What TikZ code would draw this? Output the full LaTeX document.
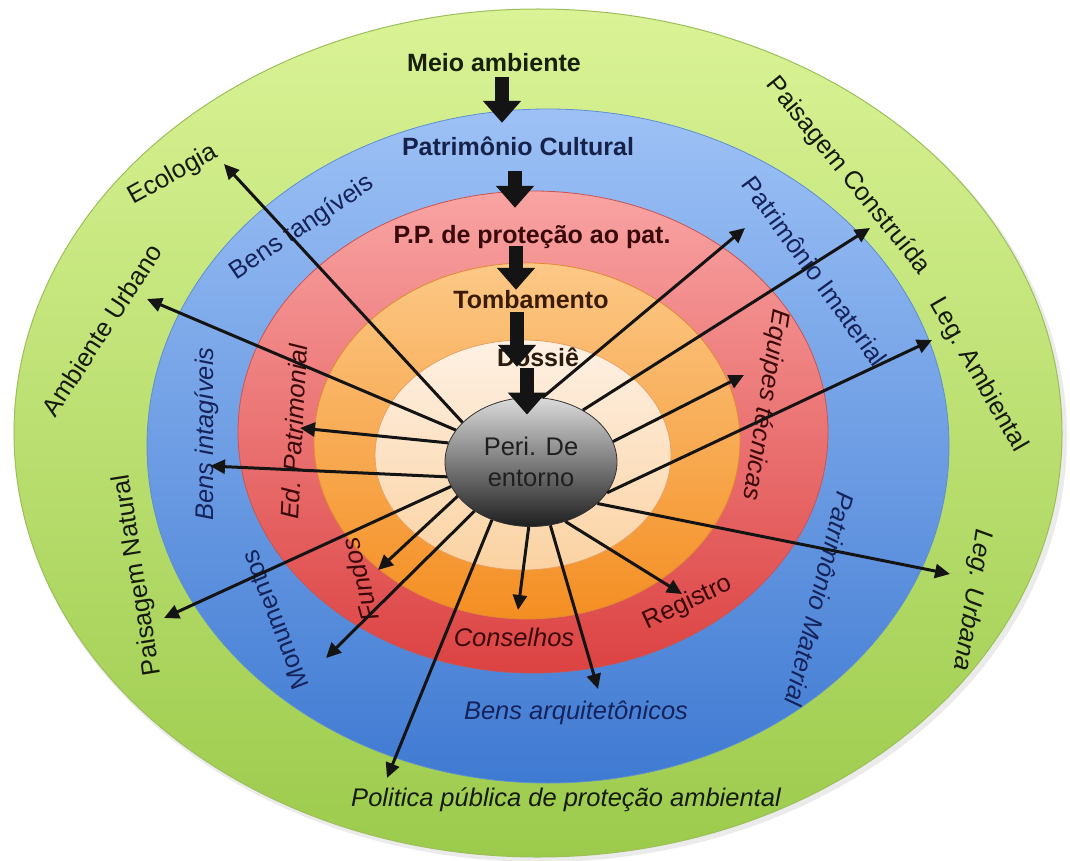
\documentclass[tikz,border=0pt]{standalone}
\usepackage{fontspec}
\setmainfont{Liberation Sans}
\usetikzlibrary{shapes.geometric,arrows.meta}
\definecolor{gtop}{HTML}{DAF396}
\definecolor{gbot}{HTML}{9CCB4C}
\definecolor{gedge}{HTML}{9DBF5A}
\definecolor{btop}{HTML}{9DC1F6}
\definecolor{bbot}{HTML}{3F7AD2}
\definecolor{bedge}{HTML}{5F8FD0}
\definecolor{rtop}{HTML}{F9A3A3}
\definecolor{rbot}{HTML}{DC4242}
\definecolor{redge}{HTML}{C85454}
\definecolor{otop}{HTML}{FCC886}
\definecolor{obot}{HTML}{F48E22}
\definecolor{oedge}{HTML}{E08A35}
\definecolor{ptop}{HTML}{FEF1E4}
\definecolor{pbot}{HTML}{FBD2A2}
\definecolor{pedge}{HTML}{E8A060}
\definecolor{gtxt}{HTML}{151A0C}
\definecolor{btxt}{HTML}{15235A}
\definecolor{rtxt}{HTML}{3A0808}
\definecolor{h1}{HTML}{18200C}
\definecolor{h2}{HTML}{17224A}
\definecolor{h3}{HTML}{3A0A0A}
\definecolor{h4}{HTML}{3A1C05}
\definecolor{h5}{HTML}{2A1A10}
\tikzset{
  lab/.style={font=\fontsize{25.5}{27}\selectfont, inner sep=0pt},
  itlab/.style={font=\fontsize{25.5}{27}\selectfont\itshape, inner sep=0pt},
  head/.style={font=\bfseries\fontsize{25}{27}\selectfont, inner sep=0pt, text height=18pt, text depth=5pt},
  thinarrow/.style={draw=black!92, line width=3pt, -{Triangle[length=15pt,width=14pt]}},
  bigarrow/.style={draw=black!92, line width=14pt, -{Triangle[length=22pt,width=37pt]}},
}
\begin{document}
\begin{tikzpicture}[x=1pt,y=-1pt]
\useasboundingbox (0,0) rectangle (1070,861);
\fill[white] (0,0) rectangle (1070,861);
% soft shadow
\fill[black, opacity=0.08] (541,437) ellipse [x radius=526pt, y radius=425pt];
% rings
\path[top color=gtop, bottom color=gbot, draw=gedge, line width=1pt] (538,433) ellipse [x radius=524pt, y radius=424pt];
\path[top color=btop, bottom color=bbot, draw=bedge, line width=0.8pt] (548,446) ellipse [x radius=401pt, y radius=337pt];
\path[top color=rtop, bottom color=rbot, draw=redge, line width=0.8pt] (533,432) ellipse [x radius=295pt, y radius=241pt];
\path[top color=otop, bottom color=obot, draw=oedge, line width=0.8pt] (527,441) ellipse [x radius=213pt, y radius=178pt];
\path[top color=ptop, bottom color=pbot, draw=pedge, line width=0.8pt] (523,455) ellipse [x radius=148pt, y radius=115pt];

% green ring labels
\node[lab, text=gtxt, rotate=29] (eco) at (173,175) {Ecologia};
\node[lab, text=gtxt, rotate=57] (amb) at (102,330) {Ambiente Urbano};
\node[lab, text=gtxt, rotate=99] (pn) at (138,575) {Paisagem Natural};
\node[itlab, text=gtxt] (pol) at (566,800) {Politica pública de proteção ambiental};
\node[itlab, text=gtxt, rotate=-99] (lu) at (972,600) {Leg. Urbana};
\node[lab, text=gtxt, rotate=-60] (la) at (978,375) {Leg. Ambiental};
\node[lab, text=gtxt, rotate=-51] (pc) at (848,176) {Paisagem Construída};
% blue ring labels
\node[lab, text=btxt, rotate=34] (bt) at (302,228) {Bens tangíveis};
\node[itlab, text=btxt, rotate=90] (bi) at (207,434) {Bens intagíveis};
\node[lab, text=btxt, rotate=111] (mon) at (275,620) {Monumentos};
\node[itlab, text=btxt] (ba) at (576,713) {Bens arquitetônicos};
\node[itlab, text=btxt, rotate=-104] (pm) at (820,599) {Patrimônio Material};
\node[lab, text=btxt, rotate=-54] (pi) at (815,271) {Patrimônio Imaterial};
% red ring labels
\node[itlab, text=rtxt, rotate=87] (ed) at (294,432) {Ed. Patrimonial};
\node[itlab, text=rtxt, rotate=105] (fun) at (360,580) {Fundos};
\node[itlab, text=rtxt] (con) at (514,637) {Conselhos};
\node[lab, text=rtxt, rotate=25] (reg) at (688,603) {Registro};
\node[itlab, text=rtxt, rotate=-99] (eq) at (765,405) {Equipes técnicas};

% headers
\node[head, text=h1] (meio) at (494,65) {Meio ambiente};
\node[head, text=h2] (patcult) at (518,149) {Patrimônio Cultural};
\node[head, text=h3] (pp) at (532,237) {P.P. de proteção ao pat.};
\node[head, text=h4] (tomb) at (531,302) {Tombamento};
\node[head, text=h5] (dossie) at (538,360) {Dossiê};

% centre
\node[ellipse, minimum width=172pt, minimum height=129pt, inner sep=0pt,
      top color=gray!28, middle color=gray!58, bottom color=black!88,
      draw=black!80, line width=0.8pt, align=center,
      font=\fontsize{25.5}{31}\selectfont, text=black!88] (peri) at (531,462) {Peri. De\\entorno};

% arrow tips
\coordinate (tEco) at (224,164);
\coordinate (tAmb) at (147,299);
\coordinate (tEd) at (300,428);
\coordinate (tBi) at (210,466);
\coordinate (tPN) at (164,618);
\coordinate (tFun) at (378,570);
\coordinate (tMon) at (326,658);
\coordinate (tPol) at (387,778);
\coordinate (tCon) at (518,610);
\coordinate (tBa) at (598,689);
\coordinate (tReg) at (682,594);
\coordinate (tLU) at (950,574);
\coordinate (tLA) at (932,340);
\coordinate (tEq) at (744,375);
\coordinate (tPC) at (870,228);
\coordinate (tPI) at (745,228);

\draw[thinarrow] (peri.150) -- (tEco);
\draw[thinarrow] (peri.157) -- (tAmb);
\draw[thinarrow] (peri.167) -- (tEd);
\draw[thinarrow] (peri.190) -- (tBi);
\draw[thinarrow] (peri.197) -- (tPN);
\draw[thinarrow] (peri.205) -- (tFun);
\draw[thinarrow] (peri.221) -- (tMon);
\draw[thinarrow] (peri.236) -- (tPol);
\draw[thinarrow] (peri.268) -- (tCon);
\draw[thinarrow] (peri.287) -- (tBa);
\draw[thinarrow] (peri.300) -- (tReg);
\draw[thinarrow] (peri.328) -- (tLU);
\draw[thinarrow] (peri.338) -- (tLA);
\draw[thinarrow] (peri.14) -- (tEq);
\draw[thinarrow] (peri.45) -- (tPC);
\draw[thinarrow] (peri.80) -- (tPI);

% block arrows
\draw[bigarrow] ([shift={(8,0.5)}]meio.south) -- ([shift={(-16,-14.5)}]patcult.north);
\draw[bigarrow] ([shift={(-3,10.5)}]patcult.south) -- ([shift={(-17,-17.5)}]pp.north);
\draw[bigarrow] ([shift={(-16,-2.5)}]pp.south) -- ([shift={(-15,-0.5)}]tomb.north);
\draw[bigarrow] ([shift={(-14,-1.5)}]tomb.south) -- ([shift={(-21,18.5)}]dossie.north);
\draw[bigarrow] ([shift={(-11,-3.5)}]dossie.south) -- ([shift={(-4,17.5)}]peri.north);
\end{tikzpicture}
\end{document}
